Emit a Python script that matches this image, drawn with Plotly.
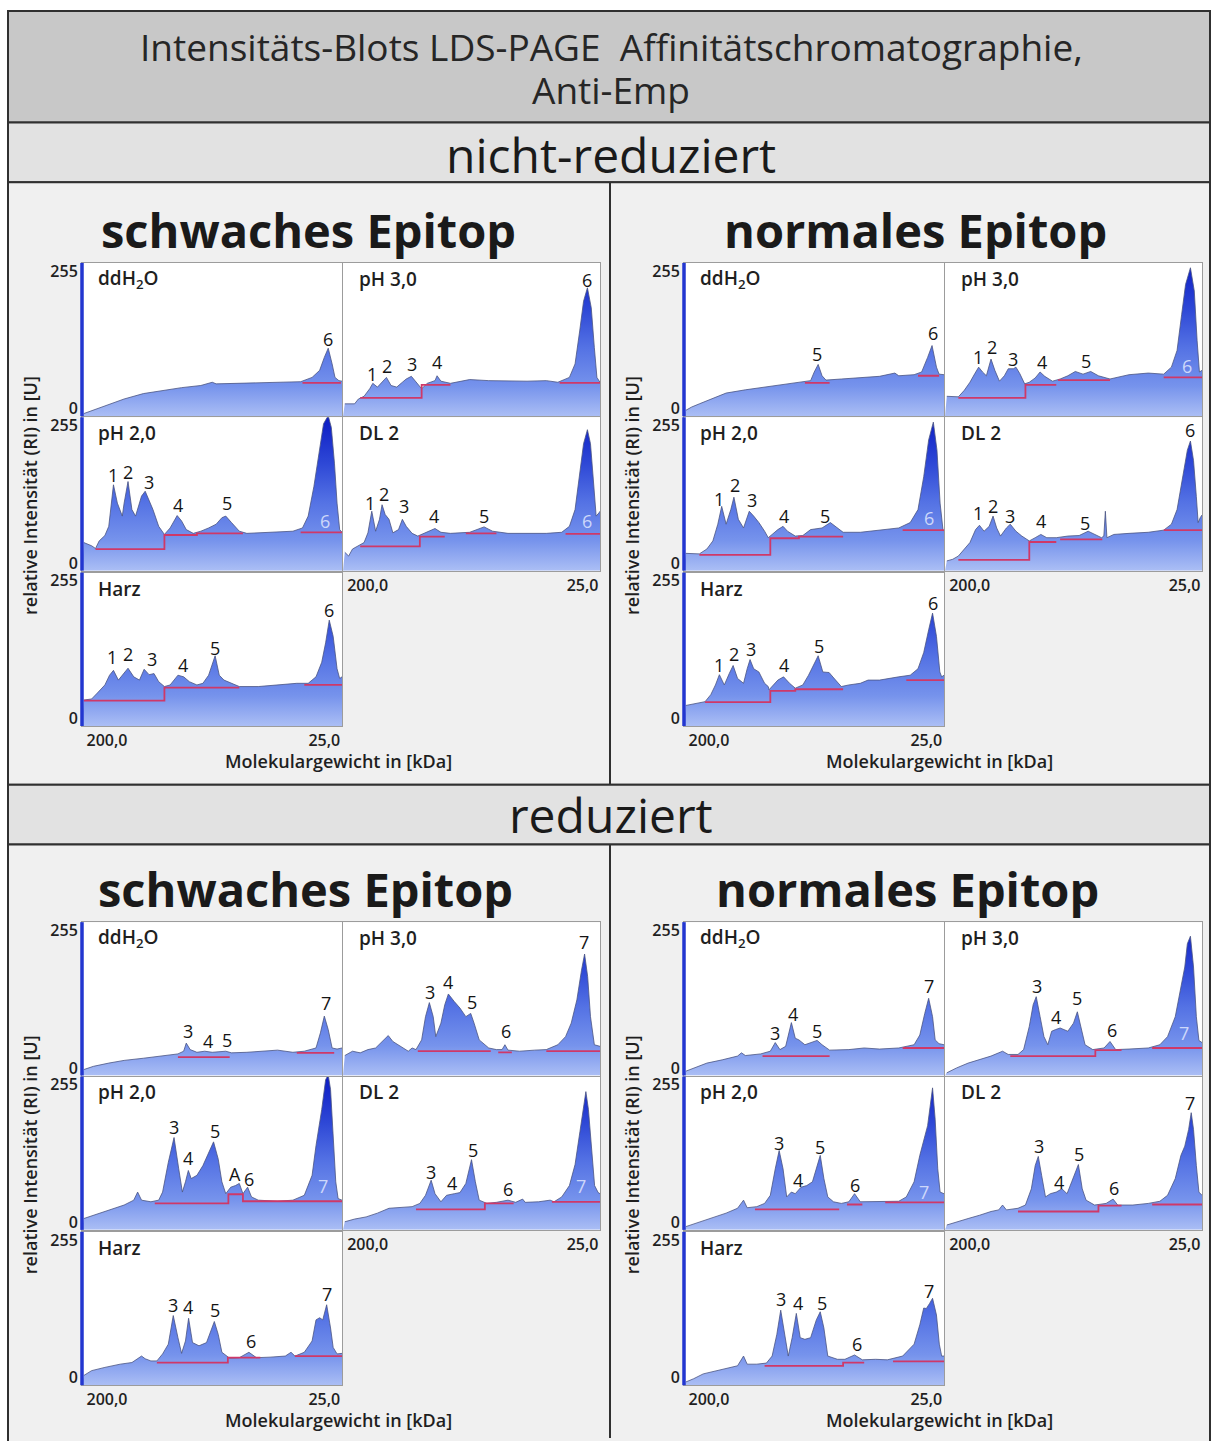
import plotly.graph_objects as go

W, H = 1212, 1441
FONT = "Open Sans, Liberation Sans, Arial, sans-serif"
TXT = "#1f1f1f"

# ---------------- texts ----------------
TITLE_LINES = ["Intensitäts-Blots LDS-PAGE  Affinitätschromatographie,", "Anti-Emp"]
SECTION_TITLES = ["nicht-reduziert", "reduziert"]
BLOCK_TITLES = ["schwaches Epitop", "normales Epitop", "schwaches Epitop", "normales Epitop"]
PANEL_NAMES = ["ddH<sub>2</sub>O", "pH 3,0", "pH 2,0", "DL 2", "Harz"]
Y_TICK_VALS = [0, 255]
Y_TICK_TEXT = ["0", "255"]
X_TICK_POS = [9.6, 93.2]
X_TICK_TEXT = ["200,0", "25,0"]
X_TITLE = "Molekulargewicht in [kDa]"
Y_TITLE = "relative Intensität (RI) in [U]"

# ---------------- data: nicht-reduziert, schwaches Epitop ----------------
nrS_ddH2O_x = [0.7, 5.9, 10.3, 16.2, 23.6, 31.0, 38.3, 45.7, 50.1, 51.6, 60.5, 75.2, 84.1, 88.5, 91.4, 93.2, 94.7, 96.2, 97.3, 98.8, 100]
nrS_ddH2O_y = [-9, 0, 9, 18, 28, 34, 39, 43, 49, 46, 47, 48, 50, 58, 71, 95, 112, 83, 58, 52, 51]
nrS_ddH2O_base = [(84.8, 99.6, 48)]
nrS_ddH2O_peaks = [("6", 94.7, 129, 0)]

nrS_pH30_x = [0.7, 4.5, 6.0, 8.2, 10.4, 11.6, 13.4, 15.2, 16.9, 18.7, 20.9, 23.1, 24.6, 26.6, 28.4, 30.6, 32.8, 35.8, 36.6, 38.1, 41.8, 46.3, 49.3, 56.7, 64.2, 71.6, 79.1, 83.6, 88.1, 90.3, 92.1, 93.6, 95.1, 96.6, 97.8, 98.8, 100]
nrS_pH30_y = [9, 9, 18, 23, 37, 47, 40, 49, 58, 43, 40, 49, 55, 60, 49, 37, 47, 52, 61, 51, 47, 52, 54, 52, 51, 51, 52, 49, 58, 83, 144, 199, 224, 187, 113, 58, 49]
nrS_pH30_base = [(6.7, 30.6, 20), (30.6, 41.8, 44), (84.3, 100, 48)]
nrS_pH30_peaks = [("1", 11.2, 64, 0), ("2", 17.2, 80, 0), ("3", 26.9, 83, 0), ("4", 36.6, 86, 0), ("6", 95.1, 239, 0)]

nrS_pH20_x = [0.7, 2.2, 3.7, 5.2, 6.6, 8.8, 10.3, 12.1, 13.6, 15.5, 16.2, 17.7, 19.2, 20.6, 22.9, 24.3, 25.8, 27.3, 29.5, 31.7, 33.9, 36.6, 38.3, 40.1, 42.8, 45.7, 48.7, 51.6, 53.8, 55.3, 57.5, 60.5, 63.4, 67.8, 75.2, 81.1, 84.8, 87.0, 89.2, 91.2, 92.9, 94.7, 95.9, 97.1, 98.1, 99.1, 100]
nrS_pH20_y = [38, 35, 32, 27, 41, 51, 68, 145, 111, 87, 111, 151, 99, 87, 124, 133, 117, 99, 68, 53, 65, 88, 78, 62, 55, 59, 65, 72, 84, 87, 75, 59, 55, 56, 57, 59, 65, 87, 142, 209, 258, 273, 251, 185, 111, 62, 57]
nrS_pH20_base = [(5.2, 31.7, 26), (31.7, 44.2, 52), (44.2, 61.9, 55), (84.1, 100, 57)]
nrS_pH20_peaks = [("1", 11.8, 163, 0), ("2", 17.7, 169, 0), ("3", 25.8, 151, 0), ("4", 36.9, 108, 0), ("5", 55.8, 111, 0), ("6", 93.4, 78, 1)]

nrS_DL2_x = [0.7, 2.2, 3.7, 6.0, 8.2, 9.7, 11.2, 12.7, 14.2, 15.2, 16.4, 17.9, 19.4, 21.6, 23.1, 24.6, 26.9, 29.1, 31.3, 34.3, 35.8, 38.1, 41.8, 49.3, 54.9, 58.2, 64.2, 71.6, 79.1, 85.1, 88.1, 90.3, 92.1, 93.6, 95.1, 96.3, 97.3, 98.5, 99.6, 100]
nrS_DL2_y = [20, 13, 26, 32, 38, 56, 96, 59, 81, 108, 90, 81, 56, 62, 81, 68, 55, 50, 55, 61, 64, 57, 55, 57, 67, 59, 55, 55, 55, 57, 68, 99, 161, 221, 247, 221, 161, 87, 93, 96]
nrS_DL2_base = [(6.7, 29.9, 31), (29.9, 39.6, 49), (47.8, 59.7, 55), (86.6, 100, 54)]
nrS_DL2_peaks = [("1", 10.4, 111, 0), ("2", 16.1, 127, 0), ("3", 23.6, 105, 0), ("4", 35.5, 87, 0), ("5", 54.8, 87, 0), ("6", 94.8, 78, 1)]

nrS_Harz_x = [0.7, 3.7, 5.9, 8.8, 10.6, 12.1, 14.0, 16.2, 17.7, 19.9, 22.1, 23.9, 25.8, 27.7, 29.5, 31.7, 33.9, 36.9, 39.1, 41.3, 44.2, 46.5, 48.7, 51.2, 52.8, 54.6, 57.5, 60.5, 67.8, 75.2, 82.6, 87.0, 90.0, 92.2, 93.7, 95.1, 96.6, 98.1, 99.1, 100]
nrS_Harz_y = [34, 36, 47, 62, 80, 89, 71, 83, 93, 77, 71, 91, 81, 83, 68, 59, 62, 80, 77, 68, 62, 65, 80, 116, 80, 71, 65, 59, 59, 62, 65, 65, 77, 104, 140, 182, 152, 92, 74, 77]
nrS_Harz_base = [(0.7, 31.7, 33), (31.7, 60.5, 57), (85.5, 100, 62)]
nrS_Harz_peaks = [("1", 11.5, 113, 0), ("2", 17.7, 119, 0), ("3", 26.8, 110, 0), ("4", 38.8, 98, 0), ("5", 51.2, 131, 0), ("6", 95.1, 200, 0)]

# ---------------- data: nicht-reduziert, normales Epitop ----------------
nrN_ddH2O_x = [0.7, 2.9, 5.9, 10.3, 16.2, 23.6, 31.0, 38.3, 45.7, 48.7, 50.1, 51.6, 53.1, 54.6, 60.5, 67.8, 75.2, 81.1, 82.6, 88.5, 91.4, 93.7, 95.4, 97.1, 98.1, 100]
nrN_ddH2O_y = [-3, 3, 9, 18, 29, 35, 40, 45, 49, 52, 68, 82, 61, 53, 55, 57, 60, 66, 61, 63, 68, 95, 117, 77, 64, 63]
nrN_ddH2O_base = [(46.5, 56.0, 48), (90.0, 98.1, 61)]
nrN_ddH2O_peaks = [("5", 51.3, 101, 0), ("6", 95.6, 140, 0)]

nrN_pH30_x = [0.7, 5.2, 7.5, 9.7, 11.6, 13.1, 14.6, 16.1, 17.9, 19.4, 21.2, 23.1, 24.6, 26.6, 27.6, 29.1, 31.0, 32.8, 35.1, 37.0, 38.8, 41.8, 44.8, 47.8, 50.7, 53.7, 56.7, 59.7, 64.2, 71.6, 79.1, 85.1, 88.1, 90.3, 92.1, 93.6, 95.5, 97.0, 98.1, 99.0, 100]
nrN_pH30_y = [23, 22, 34, 49, 65, 77, 68, 61, 92, 71, 51, 61, 74, 74, 77, 65, 46, 49, 57, 68, 60, 51, 55, 61, 69, 64, 69, 61, 55, 63, 66, 64, 77, 108, 175, 230, 261, 218, 126, 68, 71]
nrN_pH30_base = [(5.2, 31.3, 20), (31.3, 43.3, 44), (44.0, 64.2, 53), (85.1, 100, 58)]
nrN_pH30_peaks = [("1", 12.7, 96, 0), ("2", 18.2, 115, 0), ("3", 26.6, 92, 0), ("4", 37.6, 86, 0), ("5", 54.8, 89, 0), ("6", 94.0, 80, 1)]

nrN_pH20_x = [0.7, 5.9, 8.8, 11.1, 13.0, 14.5, 16.2, 18.0, 19.2, 20.9, 22.9, 25.1, 26.8, 28.8, 31.0, 32.4, 33.9, 36.1, 38.1, 39.8, 42.8, 45.7, 48.7, 53.1, 56.3, 59.0, 61.2, 67.8, 75.2, 82.6, 87.0, 90.0, 92.2, 94.1, 95.9, 97.3, 98.5, 99.6, 100]
nrN_pH20_y = [18, 17, 26, 41, 72, 105, 72, 99, 122, 81, 65, 96, 87, 75, 59, 47, 53, 62, 68, 59, 50, 51, 62, 65, 75, 65, 57, 57, 61, 65, 75, 99, 160, 228, 261, 209, 111, 62, 59]
nrN_pH20_base = [(5.9, 33.2, 15), (33.2, 44.2, 46), (44.2, 61.2, 49), (84.1, 100, 61)]
nrN_pH20_peaks = [("1", 13.6, 119, 0), ("2", 19.5, 145, 0), ("3", 26.1, 117, 0), ("4", 38.6, 87, 0), ("5", 54.1, 88, 0), ("6", 94.1, 84, 1)]

nrN_DL2_x = [0.7, 3.0, 5.2, 7.5, 9.7, 11.9, 13.4, 15.2, 17.2, 18.7, 20.1, 21.6, 23.9, 25.4, 27.6, 29.9, 32.8, 35.1, 37.3, 39.6, 43.3, 47.8, 52.2, 55.7, 58.2, 60.9, 61.8, 62.4, 63.0, 65.7, 71.6, 79.1, 85.1, 88.1, 90.3, 92.5, 94.3, 95.5, 96.7, 97.8, 98.5, 99.3, 100]
nrN_DL2_y = [4, 7, 13, 26, 38, 62, 70, 59, 68, 87, 65, 50, 65, 72, 59, 50, 41, 47, 53, 47, 47, 50, 51, 59, 53, 47, 50, 96, 47, 53, 55, 57, 61, 72, 99, 160, 209, 226, 190, 123, 75, 84, 89]
nrN_DL2_base = [(5.2, 32.8, 6), (32.8, 43.3, 39), (44.8, 61.2, 44), (85.1, 100, 61)]
nrN_DL2_peaks = [("1", 12.7, 92, 0), ("2", 18.7, 105, 0), ("3", 25.4, 88, 0), ("4", 37.3, 78, 0), ("5", 54.5, 75, 0), ("6", 95.5, 246, 0)]

nrN_Harz_x = [0.7, 4.4, 8.1, 10.3, 12.1, 13.6, 15.5, 17.4, 18.9, 20.6, 22.9, 24.3, 25.4, 26.8, 28.8, 31.0, 32.4, 32.7, 33.9, 36.1, 38.3, 40.6, 42.8, 45.7, 47.9, 50.1, 51.6, 53.4, 55.8, 58.3, 60.5, 63.4, 67.8, 70.8, 75.2, 82.6, 87.0, 90.0, 92.2, 94.1, 95.6, 97.1, 98.4, 99.1, 100]
nrN_Harz_y = [24, 27, 31, 44, 62, 81, 62, 83, 98, 74, 65, 92, 109, 92, 86, 65, 59, 53, 59, 71, 77, 65, 56, 62, 80, 101, 116, 86, 85, 71, 59, 62, 65, 71, 71, 77, 80, 92, 122, 164, 195, 152, 86, 77, 80]
nrN_Harz_base = [(8.1, 33.2, 30), (33.2, 42.8, 51), (42.8, 61.2, 54), (85.5, 100, 71)]
nrN_Harz_peaks = [("1", 13.6, 98, 0), ("2", 19.2, 119, 0), ("3", 25.8, 128, 0), ("4", 38.6, 98, 0), ("5", 51.9, 135, 0), ("6", 95.6, 213, 0)]

# ---------------- data: reduziert, schwaches Epitop ----------------
rS_ddH2O_x = [0.7, 4.4, 10.3, 16.2, 23.6, 31.0, 36.9, 39.1, 40.1, 41.6, 44.2, 47.2, 50.1, 55.3, 57.5, 63.4, 69.3, 75.2, 81.1, 85.5, 90.0, 91.7, 93.2, 94.7, 96.2, 98.1, 100]
rS_ddH2O_y = [-3, 3, 9, 14, 18, 22, 26, 31, 46, 34, 29, 31, 29, 31, 28, 29, 31, 33, 29, 31, 37, 65, 96, 71, 37, 35, 37]
rS_ddH2O_base = [(36.9, 56.8, 20), (82.6, 97.0, 28)]
rS_ddH2O_peaks = [("3", 40.6, 68, 0), ("4", 48.4, 49, 0), ("5", 55.8, 51, 0), ("7", 93.7, 120, 0)]

rS_pH30_x = [0.7, 3.7, 6.7, 9.7, 12.7, 15.7, 17.6, 19.4, 22.4, 25.4, 26.9, 28.4, 30.6, 32.1, 33.6, 35.1, 36.1, 38.1, 39.6, 41.0, 43.3, 45.5, 47.8, 49.7, 51.0, 53.0, 56.7, 59.7, 61.9, 63.0, 64.2, 68.7, 74.6, 79.1, 83.6, 86.6, 88.8, 91.0, 92.8, 94.0, 95.2, 96.3, 97.8, 100]
rS_pH30_y = [23, 31, 28, 34, 37, 52, 60, 49, 40, 31, 37, 34, 52, 95, 121, 95, 58, 83, 117, 137, 123, 111, 95, 101, 83, 52, 37, 34, 34, 43, 33, 31, 33, 34, 43, 58, 83, 126, 181, 211, 169, 95, 43, 40]
rS_pH30_base = [(29.1, 57.5, 31), (60.4, 65.7, 29), (79.1, 100, 31)]
rS_pH30_peaks = [("3", 33.9, 141, 0), ("4", 40.7, 160, 0), ("5", 50.0, 123, 0), ("6", 63.4, 68, 0), ("7", 93.7, 234, 0)]

rS_pH20_x = [0.7, 4.4, 10.3, 16.2, 19.9, 21.4, 22.9, 26.5, 29.5, 31.0, 33.2, 35.4, 37.2, 38.6, 39.8, 40.9, 42.0, 44.2, 46.5, 48.7, 50.6, 52.4, 53.8, 55.3, 57.2, 59.0, 60.5, 61.9, 63.7, 65.2, 67.8, 75.2, 81.1, 85.5, 88.5, 90.0, 92.2, 93.7, 94.7, 95.6, 96.6, 97.6, 98.5, 100]
rS_pH20_y = [7, 13, 23, 32, 41, 56, 41, 38, 41, 56, 111, 157, 99, 56, 75, 96, 81, 87, 105, 127, 149, 117, 75, 53, 65, 68, 72, 53, 65, 47, 41, 39, 41, 50, 87, 142, 209, 264, 273, 246, 160, 75, 44, 41]
rS_pH20_base = [(28.0, 56.3, 35), (56.3, 61.9, 52), (61.9, 100, 39)]
rS_pH20_peaks = [("3", 35.4, 176, 0), ("4", 40.9, 120, 0), ("5", 51.2, 169, 0), ("A", 58.7, 90, 0), ("6", 64.2, 81, 0), ("7", 92.6, 67, 1)]

rS_DL2_x = [0.7, 4.5, 9.0, 13.4, 17.9, 22.4, 26.9, 29.9, 32.1, 34.3, 35.8, 38.1, 40.3, 43.3, 45.5, 47.8, 50.0, 51.5, 53.0, 56.0, 59.7, 64.2, 67.2, 69.9, 70.9, 76.1, 80.6, 82.1, 85.1, 88.1, 90.3, 92.2, 93.7, 94.5, 95.5, 96.7, 97.9, 99.3, 100]
rS_DL2_y = [1, 6, 10, 17, 26, 27, 29, 35, 50, 78, 53, 38, 50, 53, 55, 72, 116, 75, 41, 35, 37, 41, 37, 43, 37, 38, 41, 38, 47, 68, 107, 168, 223, 242, 209, 130, 68, 55, 53]
rS_DL2_base = [(28.4, 55.2, 24), (55.2, 66.4, 35), (81.3, 100, 38)]
rS_DL2_peaks = [("3", 34.3, 93, 0), ("4", 42.5, 73, 0), ("5", 50.7, 134, 0), ("6", 64.2, 61, 0), ("7", 92.5, 67, 1)]

rS_Harz_x = [0.7, 3.7, 8.8, 14.7, 19.2, 21.4, 22.9, 24.3, 26.5, 28.8, 31.0, 33.2, 35.1, 36.9, 38.3, 39.8, 41.0, 42.5, 45.0, 47.9, 49.9, 50.9, 52.4, 53.8, 56.8, 60.5, 64.2, 67.1, 72.3, 78.2, 80.4, 81.9, 85.5, 88.5, 90.0, 91.4, 92.6, 94.1, 95.6, 96.6, 98.1, 100]
rS_Harz_y = [4, 13, 19, 25, 28, 36, 40, 35, 31, 31, 44, 62, 115, 74, 45, 68, 110, 65, 59, 65, 92, 104, 80, 47, 36, 37, 47, 37, 38, 40, 47, 40, 47, 68, 107, 111, 107, 135, 92, 56, 44, 45]
rS_Harz_base = [(28.8, 56.1, 28), (56.1, 68.6, 37), (81.9, 100, 40)]
rS_Harz_peaks = [("3", 35.1, 134, 0), ("4", 40.6, 131, 0), ("5", 51.3, 125, 0), ("6", 64.9, 68, 0), ("7", 94.1, 155, 0)]

# ---------------- data: reduziert, normales Epitop ----------------
rN_ddH2O_x = [0.7, 3.7, 8.8, 14.7, 20.6, 22.1, 23.6, 29.5, 33.2, 35.1, 36.9, 39.1, 41.3, 42.8, 44.2, 46.5, 48.7, 51.2, 53.1, 56.0, 63.4, 69.3, 75.2, 82.6, 88.5, 90.7, 92.6, 94.1, 95.6, 96.6, 98.1, 100]
rN_ddH2O_y = [-6, 0, 9, 15, 22, 28, 23, 26, 31, 47, 34, 40, 84, 55, 52, 43, 47, 51, 43, 33, 34, 37, 35, 37, 43, 61, 101, 129, 95, 52, 45, 43]
rN_ddH2O_base = [(30.2, 56.0, 22), (84.1, 100, 37)]
rN_ddH2O_peaks = [("3", 35.1, 65, 0), ("4", 42.0, 100, 0), ("5", 51.3, 68, 0), ("7", 94.1, 151, 0)]

rN_pH30_x = [0.7, 4.5, 9.0, 13.4, 17.9, 20.9, 22.4, 24.6, 28.4, 30.6, 32.8, 34.3, 35.5, 37.0, 38.5, 40.0, 41.5, 43.0, 44.8, 47.8, 50.0, 51.5, 53.0, 54.5, 57.5, 61.9, 64.2, 66.4, 71.6, 79.1, 83.6, 86.6, 89.6, 91.8, 93.3, 94.3, 95.5, 96.7, 97.8, 98.8, 100]
rN_pH30_y = [-9, 0, 9, 15, 22, 28, 31, 25, 25, 34, 77, 117, 132, 95, 58, 43, 68, 71, 74, 68, 83, 104, 71, 43, 34, 37, 49, 34, 35, 37, 43, 58, 95, 147, 187, 230, 244, 187, 95, 51, 47]
rN_pH30_base = [(25.4, 58.5, 22), (58.5, 68.7, 33), (80.6, 100, 37)]
rN_pH30_peaks = [("3", 35.8, 151, 0), ("4", 43.3, 95, 0), ("5", 51.5, 129, 0), ("6", 64.9, 71, 0), ("7", 93.0, 65, 1)]

rN_pH20_x = [0.7, 4.4, 10.3, 16.2, 20.6, 22.9, 24.3, 28.0, 31.0, 33.2, 35.1, 36.6, 38.1, 39.5, 41.3, 42.8, 45.0, 47.2, 49.4, 52.4, 53.8, 55.3, 57.5, 60.5, 63.4, 65.6, 67.8, 75.2, 82.6, 85.5, 88.5, 90.7, 92.2, 93.7, 95.6, 96.6, 97.6, 98.5, 100]
rN_pH20_y = [-8, -2, 7, 17, 26, 41, 27, 29, 35, 50, 99, 133, 99, 47, 56, 53, 65, 68, 75, 124, 81, 47, 38, 35, 38, 53, 38, 38, 39, 47, 75, 124, 154, 179, 249, 191, 99, 56, 53]
rN_pH20_base = [(27.3, 59.7, 24), (62.7, 68.6, 33), (77.4, 100, 37)]
rN_pH20_peaks = [("3", 36.6, 147, 0), ("4", 44.0, 78, 0), ("5", 52.4, 139, 0), ("6", 65.6, 69, 0), ("7", 92.2, 57, 1)]

rN_DL2_x = [0.7, 4.5, 9.0, 13.4, 17.9, 20.9, 22.4, 23.9, 28.4, 31.3, 33.6, 35.1, 36.3, 37.6, 39.1, 41.0, 43.3, 45.5, 47.5, 49.3, 51.9, 53.4, 54.9, 58.2, 62.7, 65.4, 67.2, 73.1, 79.1, 83.6, 86.6, 89.6, 91.8, 93.3, 94.8, 95.8, 96.7, 97.8, 98.8, 100]
rN_DL2_y = [-5, 1, 7, 13, 20, 23, 32, 23, 26, 32, 62, 105, 122, 87, 47, 53, 56, 62, 53, 75, 107, 62, 41, 32, 35, 43, 32, 32, 35, 39, 50, 81, 124, 141, 172, 203, 172, 105, 56, 50]
rN_DL2_base = [(28.4, 59.7, 20), (59.7, 68.7, 31), (80.6, 100, 33)]
rN_DL2_peaks = [("3", 36.6, 142, 0), ("4", 44.5, 75, 0), ("5", 52.2, 127, 0), ("6", 65.7, 64, 0), ("7", 95.5, 221, 0)]

rN_Harz_x = [0.7, 3.7, 7.4, 11.8, 16.2, 20.6, 22.9, 24.3, 28.0, 31.7, 33.9, 35.7, 37.2, 38.6, 40.1, 41.6, 43.2, 44.7, 46.5, 48.7, 50.9, 52.4, 53.8, 55.3, 59.0, 61.9, 65.6, 68.6, 73.7, 78.2, 84.1, 88.5, 90.7, 92.2, 93.2, 94.4, 95.6, 97.1, 98.2, 99.1, 100]
rN_Harz_y = [-8, -2, 7, 12, 16, 22, 40, 25, 25, 27, 40, 80, 125, 80, 40, 74, 119, 74, 71, 74, 107, 122, 92, 40, 34, 34, 42, 33, 34, 33, 40, 62, 98, 129, 128, 137, 147, 116, 62, 40, 40]
rN_Harz_base = [(31.0, 61.2, 22), (61.2, 69.3, 28), (80.4, 100, 30)]
rN_Harz_peaks = [("3", 37.3, 145, 0), ("4", 43.8, 139, 0), ("5", 53.1, 139, 0), ("6", 66.4, 63, 0), ("7", 94.1, 161, 0)]

BLOCKS = [
    [(nrS_ddH2O_x, nrS_ddH2O_y, nrS_ddH2O_base, nrS_ddH2O_peaks),
     (nrS_pH30_x, nrS_pH30_y, nrS_pH30_base, nrS_pH30_peaks),
     (nrS_pH20_x, nrS_pH20_y, nrS_pH20_base, nrS_pH20_peaks),
     (nrS_DL2_x, nrS_DL2_y, nrS_DL2_base, nrS_DL2_peaks),
     (nrS_Harz_x, nrS_Harz_y, nrS_Harz_base, nrS_Harz_peaks)],
    [(nrN_ddH2O_x, nrN_ddH2O_y, nrN_ddH2O_base, nrN_ddH2O_peaks),
     (nrN_pH30_x, nrN_pH30_y, nrN_pH30_base, nrN_pH30_peaks),
     (nrN_pH20_x, nrN_pH20_y, nrN_pH20_base, nrN_pH20_peaks),
     (nrN_DL2_x, nrN_DL2_y, nrN_DL2_base, nrN_DL2_peaks),
     (nrN_Harz_x, nrN_Harz_y, nrN_Harz_base, nrN_Harz_peaks)],
    [(rS_ddH2O_x, rS_ddH2O_y, rS_ddH2O_base, rS_ddH2O_peaks),
     (rS_pH30_x, rS_pH30_y, rS_pH30_base, rS_pH30_peaks),
     (rS_pH20_x, rS_pH20_y, rS_pH20_base, rS_pH20_peaks),
     (rS_DL2_x, rS_DL2_y, rS_DL2_base, rS_DL2_peaks),
     (rS_Harz_x, rS_Harz_y, rS_Harz_base, rS_Harz_peaks)],
    [(rN_ddH2O_x, rN_ddH2O_y, rN_ddH2O_base, rN_ddH2O_peaks),
     (rN_pH30_x, rN_pH30_y, rN_pH30_base, rN_pH30_peaks),
     (rN_pH20_x, rN_pH20_y, rN_pH20_base, rN_pH20_peaks),
     (rN_DL2_x, rN_DL2_y, rN_DL2_base, rN_DL2_peaks),
     (rN_Harz_x, rN_Harz_y, rN_Harz_base, rN_Harz_peaks)],
]

# ---------------- geometry (pixels) ----------------
BLOCK_DX = [0, 602]
BLOCK_DY = [0, 662]
COL_PX = [(82, 342), (343, 600)]
ROW_PX = [(261, 415), (416, 570), (572, 726)]
Y_RANGE = [-14, 270]

FILL_SCALE = [[0.0, "rgb(172,191,245)"], [0.2, "rgb(118,147,236)"],
              [0.45, "rgb(84,114,228)"], [0.7, "rgb(46,72,214)"], [1.0, "rgb(12,28,196)"]]


def px(x):
    return x / W


def py(y):
    return 1 - y / H


def baseline_xy(segs):
    xs, ys, prev = [], [], None
    for a, b, v in segs:
        if prev is None or abs(prev - a) > 0.3:
            if xs:
                xs.append(None)
                ys.append(None)
        xs += [a, b]
        ys += [v, v]
        prev = b
    return xs, ys


def label(text, x, y, size, color=TXT, angle=0, xanchor="center", weight="normal"):
    return dict(text=text, x=px(x), y=py(y), xref="paper", yref="paper", xanchor=xanchor,
                yanchor="middle", showarrow=False, textangle=angle,
                font=dict(family=FONT, size=size, color=color, weight=weight))


fig = go.Figure()
shapes, annotations, axes = [], [], {}


def rect(x0, y0, x1, y1, fill, lw=2, lc="#303030"):
    shapes.append(dict(type="rect", xref="paper", yref="paper", x0=px(x0), x1=px(x1),
                       y0=py(y1), y1=py(y0), fillcolor=fill, layer="below",
                       line=dict(color=lc, width=lw)))


# frame and bands
rect(8, 8, 1210, 120, "#c8c8c8")
rect(8, 120, 1210, 180, "#e2e2e2")
rect(8, 180, 1210, 785, "#f0f0f0")
rect(8, 785, 1210, 845, "#e2e2e2")
rect(8, 845, 1210, 1460, "#f0f0f0")
for (ya, yb) in [(180, 785), (845, 1441)]:
    shapes.append(dict(type="line", xref="paper", yref="paper", x0=px(610), x1=px(610),
                       y0=py(yb), y1=py(ya), line=dict(color="#303030", width=2), layer="below"))

# headings
for i, t in enumerate(TITLE_LINES):
    annotations.append(label(t, 611, [44, 87][i], 37, "#262626"))
for i, t in enumerate(SECTION_TITLES):
    annotations.append(label(t, 611, [152, 815][i], 48, "#1a1a1a"))
BT_POS = [(308, 228), (915, 228), (305, 890), (907, 890)]
for i, t in enumerate(BLOCK_TITLES):
    annotations.append(label(t, BT_POS[i][0], BT_POS[i][1], 47, "#1a1a1a", weight="bold"))

k = 0
for b, panels in enumerate(BLOCKS):
    bx = BLOCK_DX[b % 2]
    by = BLOCK_DY[b // 2]
    annotations.append(label(X_TITLE, 338 + bx, 761 + by, 18, weight=600))
    annotations.append(label(Y_TITLE, 30 + bx, 495 + by, 18, angle=-90, weight=600))
    for p, (xs, ys, base, peaks) in enumerate(panels):
        k += 1
        col, row = p % 2, p // 2
        x0, x1 = COL_PX[col][0] + bx, COL_PX[col][1] + bx
        y0, y1 = ROW_PX[row][0] + by, ROW_PX[row][1] + by
        xa = "x" if k == 1 else "x%d" % k
        ya = "y" if k == 1 else "y%d" % k
        axes["xaxis" if k == 1 else "xaxis%d" % k] = dict(
            domain=[px(x0), px(x1)], range=[0, 100], anchor=ya, showgrid=False, zeroline=False,
            showline=True, mirror=True, linecolor="#9c9c9c", linewidth=1, ticks="", ticklen=2,
            tickvals=X_TICK_POS, ticktext=X_TICK_TEXT, showticklabels=(p in (3, 4)),
            tickfont=dict(family=FONT, size=16, color=TXT, weight=600), fixedrange=True)
        axes["yaxis" if k == 1 else "yaxis%d" % k] = dict(
            domain=[py(y1), py(y0)], range=Y_RANGE, anchor=xa, showgrid=False, zeroline=False,
            showline=True, mirror=True, linecolor="#9c9c9c", linewidth=1, ticks="",
            tickvals=Y_TICK_VALS, ticktext=Y_TICK_TEXT, showticklabels=(col == 0),
            tickfont=dict(family=FONT, size=16, color=TXT, weight=600), fixedrange=True)
        rect(x0, y0, x1, y1, "white", lw=0, lc="white")
        if col == 0:
            shapes.append(dict(type="line", xref="paper", yref="paper", x0=px(x0), x1=px(x0),
                               y0=py(y1), y1=py(y0), line=dict(color="#2236d0", width=3.5), layer="above"))
        fig.add_trace(go.Scatter(x=[0, 100], y=[Y_RANGE[0], Y_RANGE[0]], xaxis=xa, yaxis=ya,
                                 mode="lines", line=dict(width=0), hoverinfo="skip", showlegend=False))
        fig.add_trace(go.Scatter(x=xs, y=ys, xaxis=xa, yaxis=ya, mode="lines", fill="tonexty",
                                 fillgradient=dict(type="vertical", colorscale=FILL_SCALE,
                                                   start=Y_RANGE[0], stop=Y_RANGE[1]),
                                 line=dict(color="#4a5482", width=0.8), showlegend=False))
        bxs, bys = baseline_xy(base)
        fig.add_trace(go.Scatter(x=bxs, y=bys, xaxis=xa, yaxis=ya, mode="lines",
                                 line=dict(color="#cf3868", width=1.8), showlegend=False,
                                 connectgaps=False))
        for lab, lx, ly, inside in peaks:
            annotations.append(dict(text=lab, x=lx, y=ly, xref=xa, yref=ya, showarrow=False,
                                    xanchor="center", yanchor="middle",
                                    font=dict(family=FONT, size=18,
                                              color="rgb(205,215,250)" if inside else "#141414")))
        annotations.append(label(PANEL_NAMES[p], x0 + 14, y0 + 16, 19, xanchor="left", weight=600))

fig.update_layout(width=W, height=H, margin=dict(l=0, r=0, t=0, b=0),
                  paper_bgcolor="white", plot_bgcolor="rgba(0,0,0,0)", showlegend=False,
                  shapes=shapes, annotations=annotations, **axes)
fig.write_html("out.html", config={"displayModeBar": False},
               post_script="document.body.style.margin='0';document.body.style.padding='0';")
